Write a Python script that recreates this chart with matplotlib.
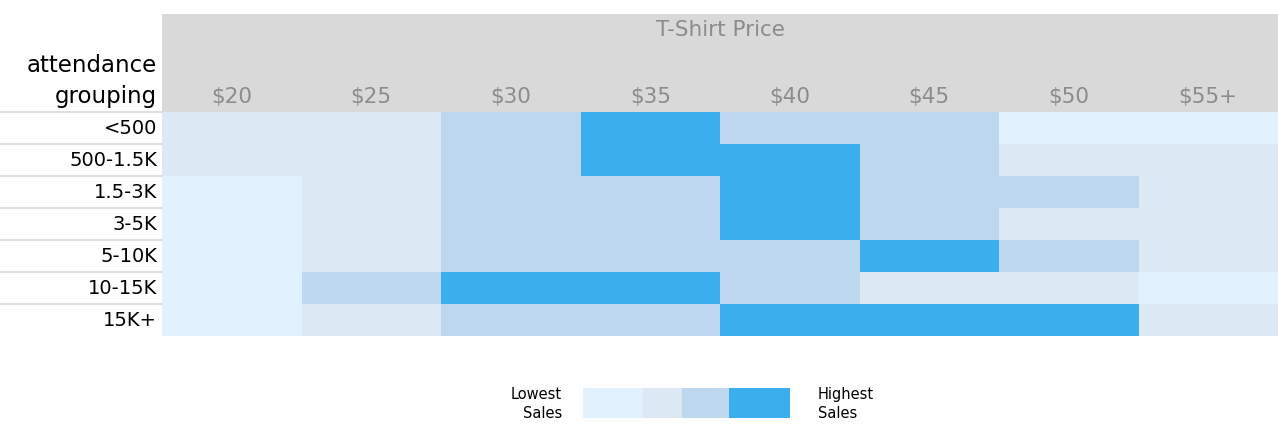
import numpy as np
import matplotlib
matplotlib.use("Agg")
import matplotlib.pyplot as plt
from matplotlib.colors import ListedColormap
from matplotlib.patches import Rectangle

plt.rcParams['font.family'] = ['DejaVu Sans']

# data
prices = ["$20", "$25", "$30", "$35", "$40", "$45", "$50", "$55+"]
groups = ["<500", "500-1.5K", "1.5-3K", "3-5K", "5-10K", "10-15K", "15K+"]
# sales level: 1 = lowest ... 4 = highest
levels = np.array([
    [2, 2, 3, 4, 3, 3, 1, 1],
    [2, 2, 3, 4, 4, 3, 2, 2],
    [1, 2, 3, 3, 4, 3, 3, 2],
    [1, 2, 3, 3, 4, 3, 2, 2],
    [1, 2, 3, 3, 3, 4, 3, 2],
    [1, 3, 4, 4, 3, 2, 2, 1],
    [1, 2, 3, 3, 4, 4, 4, 2],
])
legend_levels = [1, 2, 3, 4]
legend_widths = [60, 39, 47, 61]

colors = ["#E1F1FD", "#DCE9F5", "#BDD7EE", "#3BAFEE"]
cmap = ListedColormap(colors)

W, H = 1278, 429
fig = plt.figure(figsize=(W / 100, H / 100), dpi=100)

def px_axes(x0, y0, x1, y1):
    return fig.add_axes([x0 / W, 1 - y1 / H, (x1 - x0) / W, (y1 - y0) / H])

ax = px_axes(162, 112, 1278, 336)
ax.pcolormesh(np.arange(len(prices) + 1), np.arange(len(groups) + 1), levels,
              cmap=cmap, vmin=0.5, vmax=4.5)
ax.set_xlim(0, len(prices))
ax.set_ylim(len(groups), 0)
for s in ax.spines.values():
    s.set_visible(False)
ax.set_xticks([])
ax.set_yticks([])

row_px = 32.0
col_px = 1116 / len(prices)
# header band
ax.add_patch(Rectangle((0, -98 / row_px), len(prices), 98 / row_px,
                       facecolor="#D9D9D9", edgecolor="none", clip_on=False))
ax.text(len(prices) / 2, -82 / row_px, "T-Shirt Price", ha="center", va="center",
        fontsize=15.5, color="#8C8C8C")
for i, p in enumerate(prices):
    ax.text(i + 0.5, -15 / row_px, p, ha="center", va="center",
            fontsize=15.5, color="#8C8C8C")

# row labels and separators
for j, g in enumerate(groups):
    ax.text(-5 / col_px, j + 0.5, g, ha="right", va="center", fontsize=14, color="black")
for j in range(len(groups)):
    ax.plot([-162 / col_px, 0], [j, j], color="#D9D9D9", lw=1.2, clip_on=False)
ax.text(-5 / col_px, -47 / row_px, "attendance", ha="right", va="center", fontsize=16.5)
ax.text(-5 / col_px, -16 / row_px, "grouping", ha="right", va="center", fontsize=16.5)

# legend
lax = px_axes(583, 388, 790, 418)
lefts = np.concatenate([[0], np.cumsum(legend_widths)[:-1]])
lax.barh(0, legend_widths, left=lefts, height=1,
         color=[colors[l - 1] for l in legend_levels])
lax.set_xlim(0, sum(legend_widths))
lax.set_ylim(-0.5, 0.5)
lax.axis("off")
fig.text(562 / W, 1 - 404 / H, "Lowest\nSales", ha="right", va="center",
         fontsize=10.5, linespacing=1.3)
fig.text(818 / W, 1 - 404 / H, "Highest\nSales", ha="left", va="center",
         fontsize=10.5, linespacing=1.3)

fig.savefig("out.png", dpi=100, facecolor="white")
